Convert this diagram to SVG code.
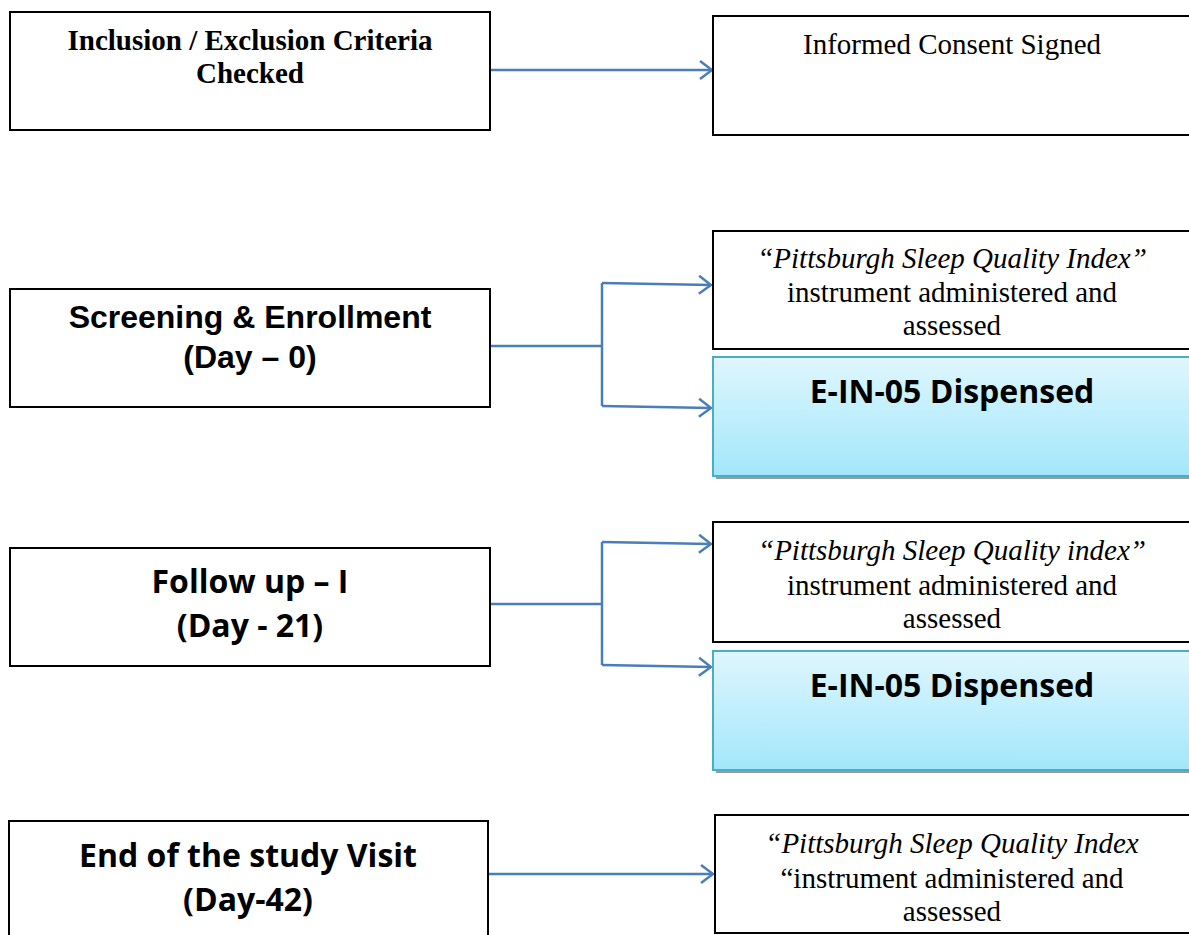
<svg xmlns="http://www.w3.org/2000/svg" width="1189" height="935" viewBox="0 0 1189 935">
<defs>
<linearGradient id="blue" x1="0" y1="0" x2="0" y2="1">
<stop offset="0" stop-color="#dff6fd"/>
<stop offset="1" stop-color="#a2e7fb"/>
</linearGradient>
<marker id="arr" markerWidth="14" markerHeight="20" refX="13" refY="10" orient="auto" markerUnits="userSpaceOnUse">
<path d="M1,1 L13,10 L1,19" fill="none" stroke="#4a7ebb" stroke-width="2.5"/>
</marker>
</defs>
<style>
.box{fill:#fff;stroke:#000;stroke-width:2}
.bbox{fill:url(#blue);stroke:#4bacc6;stroke-width:2}
.shadow{fill:#9a9a9a}
.con{fill:none;stroke:#4a7ebb;stroke-width:2.5}
.tb{font-family:"Liberation Serif",serif;font-weight:bold;font-size:29px;text-anchor:middle}
.t{font-family:"Liberation Serif",serif;font-size:29px;text-anchor:middle}
.ti{font-style:italic}
.ab{font-family:"Liberation Sans",sans-serif;font-weight:bold;font-size:32px;text-anchor:middle}
.cb{font-family:"Open Sans",sans-serif;font-weight:bold;font-size:32px;text-anchor:middle}
</style>
<rect width="1189" height="935" fill="#fff"/>
<g id="connectors">
<path class="con" d="M490,70 L712,70" marker-end="url(#arr)"/>
<path class="con" d="M490,346 L602,346"/>
<path class="con" d="M602,283 L602,406"/>
<path class="con" d="M602,283 L711,285" marker-end="url(#arr)"/>
<path class="con" d="M602,406 L711,408" marker-end="url(#arr)"/>
<path class="con" d="M490,604 L602,604"/>
<path class="con" d="M602,542 L602,665"/>
<path class="con" d="M602,542 L711,544" marker-end="url(#arr)"/>
<path class="con" d="M602,665 L711,667" marker-end="url(#arr)"/>
<path class="con" d="M488,874 L713,874" marker-end="url(#arr)"/>
</g>
<g id="inclusion">
<rect class="box" x="10" y="12" width="480" height="118"/>
<text class="tb" x="250" y="50">Inclusion / Exclusion Criteria</text>
<text class="tb" x="250" y="83">Checked</text>
</g>
<g id="consent">
<rect class="box" x="713" y="16" width="490" height="119"/>
<text class="t" x="952" y="54">Informed Consent Signed</text>
</g>
<g id="screening">
<rect class="box" x="10" y="289" width="480" height="118"/>
<text class="ab" x="250" y="328">Screening &amp; Enrollment</text>
<text class="ab" x="250" y="368">(Day – 0)</text>
</g>
<g id="psqi1">
<rect class="box" x="713" y="231" width="490" height="118"/>
<text class="t ti" x="952" y="268">“Pittsburgh Sleep Quality Index”</text>
<text class="t" x="952" y="302">instrument administered and</text>
<text class="t" x="952" y="335">assessed</text>
</g>
<g id="dispensed1">
<rect class="shadow" x="716" y="360" width="480" height="119"/>
<rect class="bbox" x="713" y="357" width="490" height="119"/>
<text class="cb" x="952" y="403">E-IN-05 Dispensed</text>
</g>
<g id="followup">
<rect class="box" x="10" y="548" width="480" height="118"/>
<text class="cb" x="250" y="593">Follow up – I</text>
<text class="cb" x="250" y="637">(Day - 21)</text>
</g>
<g id="psqi2">
<rect class="box" x="713" y="522" width="490" height="120"/>
<text class="t ti" x="952" y="560">“Pittsburgh Sleep Quality index”</text>
<text class="t" x="952" y="595">instrument administered and</text>
<text class="t" x="952" y="628">assessed</text>
</g>
<g id="dispensed2">
<rect class="shadow" x="716" y="654" width="480" height="119"/>
<rect class="bbox" x="713" y="651" width="490" height="119"/>
<text class="cb" x="952" y="697">E-IN-05 Dispensed</text>
</g>
<g id="end">
<rect class="box" x="9" y="821" width="479" height="130"/>
<text class="cb" x="248" y="867">End of the study Visit</text>
<text class="cb" x="248" y="911">(Day-42)</text>
</g>
<g id="psqi3">
<rect class="box" x="715" y="815" width="490" height="118"/>
<text class="t" x="952" y="853"><tspan class="ti">“Pittsburgh Sleep Quality Index</tspan></text>
<text class="t" x="952" y="888">“instrument administered and</text>
<text class="t" x="952" y="921">assessed</text>
</g>
</svg>
